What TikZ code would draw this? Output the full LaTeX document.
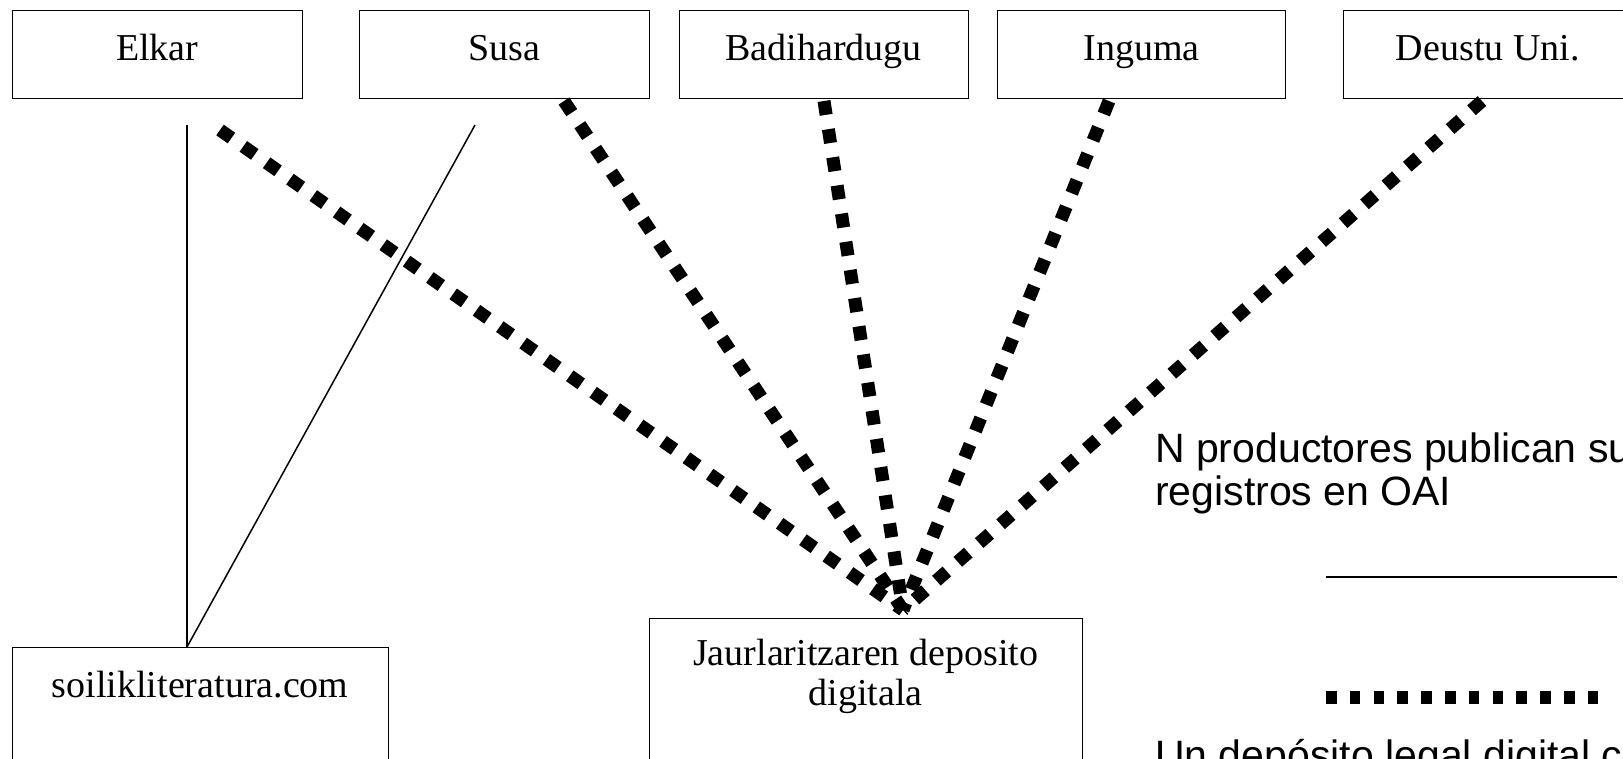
\documentclass[tikz,border=0pt]{standalone}
\usepackage{fontspec}
\setmainfont{Liberation Serif}
\newfontfamily\notefont{Liberation Sans}
\usepackage{tikz}
\usetikzlibrary{calc,positioning}
\tikzset{
    line width=1.5pt,
    box/.style ={rectangle, draw, anchor=north west, minimum height=88pt, inner sep=0pt,
        font=\fontsize{38}{40}\selectfont, text height=24pt, text depth=12pt},
    basebox/.style = {rectangle, draw, anchor=north west, minimum height=220pt},
    boxtext/.style = {inner sep=0pt, align=center, font=\fontsize{38}{40}\selectfont},
    note/.style = {inner sep=0pt, align=left, font=\notefont\fontsize{41}{43}\selectfont},
    link/.style = {line width=1.5pt},
    oai/.style = {line width=13pt, dash pattern=on 14pt off 14.5pt},
    oaikey/.style = {line width=13pt, dash pattern=on 10.5pt off 13.3pt}
}

\begin{document}
\begin{tikzpicture}[x=1pt,y=-1pt]
	\useasboundingbox (0,0) rectangle (1623,758);
	\clip (0,0) rectangle (1623,758);

	% producers
	\node[box, minimum width=290pt] (elkar) at (12,10) {Elkar};
	\node[box, minimum width=290pt, right=57pt of elkar] (susa) {Susa};
	\node[box, minimum width=289pt, right=29pt of susa] (badi) {Badihardugu};
	\node[box, minimum width=288pt, right=29pt of badi] (inguma) {Inguma};
	\node[box, minimum width=290pt, right=57pt of inguma] (deustu) {Deustu Uni.};

	% receivers
	\node[basebox, minimum width=376pt] (soilik) at (12,647) {};
	\node[boxtext, below=24pt of soilik.north] (soiliktext) {soilikliteratura.com};
	\node[basebox, minimum width=433pt] (jaurl) at (649,618) {};
	\node[boxtext, below=21pt of jaurl.north] (jaurltext) {Jaurlaritzaren deposito\\digitala};

	% solid links
	\coordinate (elkar-tail) at (187,125);
	\coordinate (susa-tail) at (475,125);
	\coordinate (soilik-in) at ([xshift=175pt]soilik.north west);
	\draw[link] (elkar-tail) -- (soilik-in);
	\draw[link] (susa-tail) -- (soilik-in);

	% OAI harvesting
	\coordinate (hub) at (903,610);
	\coordinate (elkar-oai) at (220,130);
	\coordinate (susa-oai) at (564,101);
	\coordinate (badi-oai) at (824,101);
	\coordinate (inguma-oai) at (1109,101);
	\coordinate (deustu-oai) at (1482,101);
	\foreach \src in {elkar,susa,badi,inguma,deustu}
		\draw[oai] (\src-oai) -- (hub);

	% legend
	\node[note, anchor=north west] (oainote) at (1155,433) {N productores publican sus\\registros en OAI};
	\coordinate (key1a) at (1326,577);
	\coordinate (key1b) at (1617,577);
	\draw[link] (key1a) -- (key1b);
	\coordinate (key2a) at (1326,697);
	\coordinate (key2b) at (1599,697);
	\draw[oaikey] (key2a) -- (key2b);
	\node[note, anchor=base west] (legalnote) at (1155,769) {Un depósito legal digital c};
\end{tikzpicture}
\end{document}
